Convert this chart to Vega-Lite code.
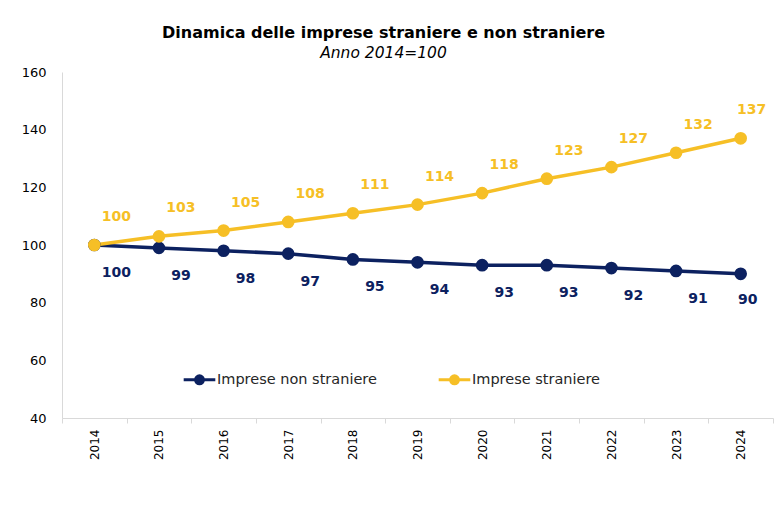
{
  "$schema": "https://vega.github.io/schema/vega-lite/v6.json",
  "autosize": {"type": "none"},
  "width": 711,
  "height": 346,
  "padding": {"left": 62, "top": 72, "right": 1, "bottom": 98},
  "background": "white",
  "config": {"view": {"stroke": null}, "font": "DejaVu Sans"},
  "title": {
    "text": "Dinamica delle imprese straniere e non straniere",
    "subtitle": "Anno 2014=100",
    "anchor": "middle",
    "frame": "group",
    "dx": -34,
    "offset": 5,
    "font": "DejaVu Sans",
    "fontSize": 16,
    "fontWeight": "bold",
    "color": "#000000",
    "subtitleFont": "DejaVu Sans",
    "subtitleFontSize": 15.5,
    "subtitleFontStyle": "italic",
    "subtitleColor": "#000000",
    "subtitlePadding": 5
  },
  "data": {
    "values": [
      {"anno": "2014", "serie": "Impresse non straniere", "valore": 100},
      {"anno": "2015", "serie": "Impresse non straniere", "valore": 99},
      {"anno": "2016", "serie": "Impresse non straniere", "valore": 98},
      {"anno": "2017", "serie": "Impresse non straniere", "valore": 97},
      {"anno": "2018", "serie": "Impresse non straniere", "valore": 95},
      {"anno": "2019", "serie": "Impresse non straniere", "valore": 94},
      {"anno": "2020", "serie": "Impresse non straniere", "valore": 93},
      {"anno": "2021", "serie": "Impresse non straniere", "valore": 93},
      {"anno": "2022", "serie": "Impresse non straniere", "valore": 92},
      {"anno": "2023", "serie": "Impresse non straniere", "valore": 91},
      {"anno": "2024", "serie": "Impresse non straniere", "valore": 90},
      {"anno": "2014", "serie": "Impresse straniere", "valore": 100},
      {"anno": "2015", "serie": "Impresse straniere", "valore": 103},
      {"anno": "2016", "serie": "Impresse straniere", "valore": 105},
      {"anno": "2017", "serie": "Impresse straniere", "valore": 108},
      {"anno": "2018", "serie": "Impresse straniere", "valore": 111},
      {"anno": "2019", "serie": "Impresse straniere", "valore": 114},
      {"anno": "2020", "serie": "Impresse straniere", "valore": 118},
      {"anno": "2021", "serie": "Impresse straniere", "valore": 123},
      {"anno": "2022", "serie": "Impresse straniere", "valore": 127},
      {"anno": "2023", "serie": "Impresse straniere", "valore": 132},
      {"anno": "2024", "serie": "Impresse straniere", "valore": 137}
    ]
  },
  "encoding": {
    "x": {
      "field": "anno",
      "type": "ordinal",
      "scale": {"paddingInner": 0, "paddingOuter": 0},
      "axis": {
        "title": null,
        "labelAngle": -90,
        "labelFont": "DejaVu Sans",
        "labelFontSize": 12,
        "labelColor": "#000000",
        "labelPadding": 6,
        "domainColor": "#d9d9d9",
        "domainWidth": 1,
        "tickColor": "#d9d9d9",
        "tickSize": 5,
        "tickBand": "extent"
      }
    },
    "y": {
      "field": "valore",
      "type": "quantitative",
      "scale": {"domain": [40, 160]},
      "axis": {
        "title": null,
        "values": [40, 60, 80, 100, 120, 140, 160],
        "grid": false,
        "ticks": false,
        "labelFont": "DejaVu Sans",
        "labelFontSize": 13,
        "labelColor": "#000000",
        "labelPadding": 16,
        "domainColor": "#d9d9d9",
        "domainWidth": 1
      }
    },
    "color": {
      "field": "serie",
      "type": "nominal",
      "scale": {
        "domain": ["Impresse non straniere", "Impresse straniere"],
        "range": ["#0c2160", "#f6bf26"]
      },
      "legend": {
        "title": null,
        "orient": "none",
        "legendX": 120,
        "legendY": 290,
        "direction": "horizontal",
        "columnPadding": 55,
        "padding": 0,
        "symbolType": "M-1,0H1M-0.25,0A0.25,0.25 0 1,0 0.25,0A0.25,0.25 0 1,0 -0.25,0",
        "symbolSize": 1000,
        "symbolStrokeWidth": 3,
        "labelFont": "DejaVu Sans",
        "labelFontSize": 14.5,
        "labelColor": "#262626",
        "labelOffset": 0,
        "labelExpr": "replace(datum.label, 'Impresse', 'Imprese')",
        "encode": {
          "symbols": {"update": {"fill": {"scale": "color", "field": "value"}, "fillOpacity": {"value": 1}}}
        }
      }
    }
  },
  "layer": [
    {
      "mark": {"type": "line", "strokeWidth": 3.5},
      "encoding": {}
    },
    {
      "mark": {"type": "circle", "size": 160, "opacity": 1},
      "encoding": {}
    },
    {
      "transform": [{"filter": "datum.serie == 'Impresse straniere' && datum.anno != '2024'"}],
      "mark": {"type": "text", "dx": 22, "dy": -28, "fontSize": 14, "fontWeight": "bold", "font": "DejaVu Sans"},
      "encoding": {"text": {"field": "valore", "type": "quantitative", "format": "d"}}
    },
    {
      "transform": [{"filter": "datum.serie == 'Impresse non straniere' && datum.anno != '2024'"}],
      "mark": {"type": "text", "dx": 22, "dy": 28, "fontSize": 14, "fontWeight": "bold", "font": "DejaVu Sans"},
      "encoding": {"text": {"field": "valore", "type": "quantitative", "format": "d"}}
    },
    {
      "transform": [{"filter": "datum.serie == 'Impresse straniere' && datum.anno == '2024'"}],
      "mark": {"type": "text", "dx": 11, "dy": -28, "fontSize": 14, "fontWeight": "bold", "font": "DejaVu Sans"},
      "encoding": {"text": {"field": "valore", "type": "quantitative", "format": "d"}}
    },
    {
      "transform": [{"filter": "datum.serie == 'Impresse non straniere' && datum.anno == '2024'"}],
      "mark": {"type": "text", "dx": 7, "dy": 26, "fontSize": 14, "fontWeight": "bold", "font": "DejaVu Sans"},
      "encoding": {"text": {"field": "valore", "type": "quantitative", "format": "d"}}
    }
  ]
}
